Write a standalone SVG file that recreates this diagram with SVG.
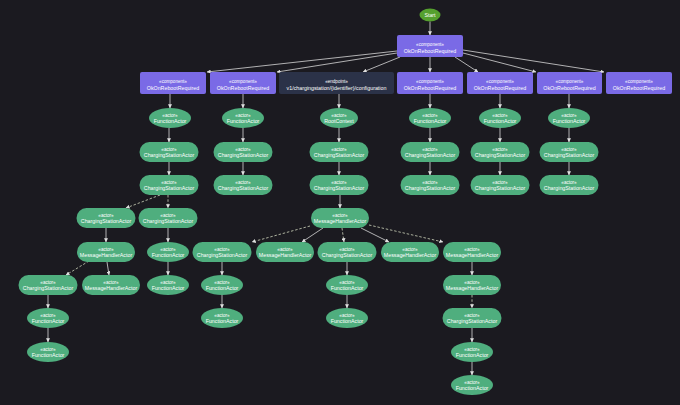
<svg xmlns="http://www.w3.org/2000/svg" width="680" height="405" viewBox="0 0 680 405">
<defs>
<marker id="ah" viewBox="0 0 6 6" refX="5.5" refY="3" markerWidth="4" markerHeight="4" orient="auto" markerUnits="userSpaceOnUse">
<path d="M0,0 L6,3 L0,6 z" fill="#e0e0e0"/>
</marker>
<style>
text{font-family:"Liberation Sans",Arial,sans-serif;fill:#ffffff;text-anchor:middle}
.st{font-size:4.6px}
.nm{font-size:5.3px}
.comp{fill:#7a6ae6}
.ep{fill:#2b3248}
.act{fill:#4fae7e}
.start{fill:#55a02e}
.e{stroke:#d8d8d8;stroke-width:0.8;fill:none;marker-end:url(#ah)}
.d{stroke:#cfd6bc;stroke-width:0.8;fill:none;stroke-dasharray:2.5,1.8;marker-end:url(#ah)}
</style>
</defs>
<rect width="680" height="405" fill="#1b1a20"/>

<g id="connectors">
<line class="e" x1="430" y1="21.5" x2="430" y2="35"/>
<line class="e" x1="397" y1="51" x2="207" y2="72"/>
<line class="e" x1="397" y1="53" x2="277" y2="72"/>
<line class="e" x1="400" y1="57" x2="363" y2="72"/>
<line class="e" x1="430" y1="57" x2="430" y2="72"/>
<line class="e" x1="455" y1="57" x2="478" y2="72"/>
<line class="e" x1="463" y1="53" x2="536" y2="72"/>
<line class="e" x1="463" y1="50" x2="604" y2="72"/>
<!-- col A -->
<line class="e" x1="170" y1="94" x2="170" y2="108"/>
<line class="e" x1="169" y1="128" x2="169" y2="142"/>
<line class="e" x1="169" y1="162" x2="169" y2="175"/>
<line class="d" x1="160" y1="195" x2="126" y2="208"/>
<line class="d" x1="168" y1="195" x2="168" y2="208"/>
<line class="e" x1="106" y1="228" x2="106" y2="242"/>
<line class="e" x1="168" y1="228" x2="168" y2="242"/>
<line class="d" x1="89" y1="261" x2="66" y2="275"/>
<line class="e" x1="107" y1="262" x2="109" y2="275"/>
<line class="e" x1="168" y1="262" x2="168" y2="275"/>
<line class="e" x1="48" y1="295" x2="48" y2="308"/>
<line class="e" x1="48" y1="328" x2="48" y2="342"/>
<!-- col B -->
<line class="e" x1="243" y1="94" x2="243" y2="108"/>
<line class="e" x1="243" y1="128" x2="243" y2="142"/>
<line class="e" x1="243" y1="162" x2="243" y2="175"/>
<!-- endpoint col -->
<line class="e" x1="339" y1="94" x2="339" y2="108"/>
<line class="e" x1="339" y1="128" x2="339" y2="142"/>
<line class="e" x1="339" y1="162" x2="339" y2="175"/>
<line class="e" x1="340" y1="195" x2="340" y2="208"/>
<line class="d" x1="310" y1="226" x2="252" y2="242"/>
<line class="e" x1="323" y1="228" x2="302" y2="242"/>
<line class="d" x1="342" y1="228" x2="344" y2="242"/>
<line class="e" x1="361" y1="228" x2="389" y2="242"/>
<line class="d" x1="369" y1="225" x2="443" y2="242"/>
<line class="e" x1="222" y1="262" x2="222" y2="275"/>
<line class="e" x1="222" y1="295" x2="222" y2="308"/>
<line class="e" x1="347" y1="262" x2="347" y2="275"/>
<line class="e" x1="347" y1="295" x2="347" y2="308"/>
<line class="e" x1="472" y1="262" x2="472" y2="275"/>
<line class="d" x1="472" y1="295" x2="472" y2="308"/>
<line class="e" x1="472" y1="328" x2="472" y2="342"/>
<line class="e" x1="472" y1="362" x2="472" y2="375"/>
<!-- right cols -->
<line class="e" x1="430" y1="94" x2="430" y2="108"/>
<line class="e" x1="430" y1="128" x2="430" y2="142"/>
<line class="e" x1="430" y1="162" x2="430" y2="175"/>
<line class="e" x1="500" y1="94" x2="500" y2="108"/>
<line class="e" x1="500" y1="128" x2="500" y2="142"/>
<line class="e" x1="500" y1="162" x2="500" y2="175"/>
<line class="e" x1="569" y1="94" x2="569" y2="108"/>
<line class="e" x1="569" y1="128" x2="569" y2="142"/>
<line class="e" x1="569" y1="162" x2="569" y2="175"/>
</g>

<g id="start"><ellipse class="start" cx="430" cy="15" rx="10.5" ry="6.5"/><text x="430" y="17" style="font-size:5.3px">Start</text></g>

<g id="root"><rect class="comp" x="397" y="35" width="66" height="22" rx="2"/><text class="st" x="430" y="45.5">«component»</text><text class="nm" x="430" y="52.5">OkOnRebootRequired</text></g>

<g id="comp1"><rect class="comp" x="140" y="72" width="66" height="22" rx="2"/><text class="st" x="173" y="83">«component»</text><text class="nm" x="173" y="90">OkOnRebootRequired</text></g>
<g id="comp2"><rect class="comp" x="210" y="72" width="66" height="22" rx="2"/><text class="st" x="243" y="83">«component»</text><text class="nm" x="243" y="90">OkOnRebootRequired</text></g>
<g id="endpoint"><rect class="ep" x="279" y="72" width="115" height="22" rx="2"/><text class="st" x="336.5" y="83">«endpoint»</text><text class="nm" x="336.5" y="90">v1/chargingstation/{identifier}/configuration</text></g>
<g id="comp3"><rect class="comp" x="397" y="72" width="66" height="22" rx="2"/><text class="st" x="430" y="83">«component»</text><text class="nm" x="430" y="90">OkOnRebootRequired</text></g>
<g id="comp4"><rect class="comp" x="467" y="72" width="66" height="22" rx="2"/><text class="st" x="500" y="83">«component»</text><text class="nm" x="500" y="90">OkOnRebootRequired</text></g>
<g id="comp5"><rect class="comp" x="537" y="72" width="65" height="22" rx="2"/><text class="st" x="569.5" y="83">«component»</text><text class="nm" x="569.5" y="90">OkOnRebootRequired</text></g>
<g id="comp6"><rect class="comp" x="606" y="72" width="66" height="22" rx="2"/><text class="st" x="639" y="83">«component»</text><text class="nm" x="639" y="90">OkOnRebootRequired</text></g>

<!-- column A -->
<g id="a1"><ellipse class="act" cx="170" cy="118" rx="21" ry="10"/><text class="st" x="170" y="116.5">«actor»</text><text class="nm" x="170" y="123">FunctionActor</text></g>
<g id="a2"><rect class="act" x="139.5" y="142" width="59" height="20" rx="10"/><text class="st" x="169" y="150.5">«actor»</text><text class="nm" x="169" y="157">ChargingStationActor</text></g>
<g id="a3"><rect class="act" x="139.5" y="175" width="59" height="20" rx="10"/><text class="st" x="169" y="183.5">«actor»</text><text class="nm" x="169" y="190">ChargingStationActor</text></g>
<g id="a4"><rect class="act" x="76.5" y="208" width="59" height="20" rx="10"/><text class="st" x="106" y="216.5">«actor»</text><text class="nm" x="106" y="223">ChargingStationActor</text></g>
<g id="a5"><rect class="act" x="138.5" y="208" width="59" height="20" rx="10"/><text class="st" x="168" y="216.5">«actor»</text><text class="nm" x="168" y="223">ChargingStationActor</text></g>
<g id="a6"><rect class="act" x="77" y="242" width="58" height="20" rx="10"/><text class="st" x="106" y="250.5">«actor»</text><text class="nm" x="106" y="257">MessageHandlerActor</text></g>
<g id="a7"><ellipse class="act" cx="168" cy="252" rx="21" ry="10"/><text class="st" x="168" y="250.5">«actor»</text><text class="nm" x="168" y="257">FunctionActor</text></g>
<g id="a8"><rect class="act" x="18.5" y="275" width="59" height="20" rx="10"/><text class="st" x="48" y="283.5">«actor»</text><text class="nm" x="48" y="290">ChargingStationActor</text></g>
<g id="a9"><rect class="act" x="82" y="275" width="58" height="20" rx="10"/><text class="st" x="111" y="283.5">«actor»</text><text class="nm" x="111" y="290">MessageHandlerActor</text></g>
<g id="a10"><ellipse class="act" cx="168" cy="285" rx="21" ry="10"/><text class="st" x="168" y="283.5">«actor»</text><text class="nm" x="168" y="290">FunctionActor</text></g>
<g id="a11"><ellipse class="act" cx="48" cy="318" rx="21" ry="10"/><text class="st" x="48" y="316.5">«actor»</text><text class="nm" x="48" y="323">FunctionActor</text></g>
<g id="a12"><ellipse class="act" cx="48" cy="352" rx="21" ry="10"/><text class="st" x="48" y="350.5">«actor»</text><text class="nm" x="48" y="357">FunctionActor</text></g>

<!-- column B -->
<g id="b1"><ellipse class="act" cx="243" cy="118" rx="21" ry="10"/><text class="st" x="243" y="116.5">«actor»</text><text class="nm" x="243" y="123">FunctionActor</text></g>
<g id="b2"><rect class="act" x="213.5" y="142" width="59" height="20" rx="10"/><text class="st" x="243" y="150.5">«actor»</text><text class="nm" x="243" y="157">ChargingStationActor</text></g>
<g id="b3"><rect class="act" x="213.5" y="175" width="59" height="20" rx="10"/><text class="st" x="243" y="183.5">«actor»</text><text class="nm" x="243" y="190">ChargingStationActor</text></g>

<!-- endpoint column -->
<g id="e1"><ellipse class="act" cx="339" cy="118" rx="19" ry="10"/><text class="st" x="339" y="116.5">«actor»</text><text class="nm" x="339" y="123">RootContext</text></g>
<g id="e2"><rect class="act" x="309.5" y="142" width="59" height="20" rx="10"/><text class="st" x="339" y="150.5">«actor»</text><text class="nm" x="339" y="157">ChargingStationActor</text></g>
<g id="e3"><rect class="act" x="309.5" y="175" width="59" height="20" rx="10"/><text class="st" x="339" y="183.5">«actor»</text><text class="nm" x="339" y="190">ChargingStationActor</text></g>
<g id="e4"><rect class="act" x="311" y="208" width="58" height="20" rx="10"/><text class="st" x="340" y="216.5">«actor»</text><text class="nm" x="340" y="223">MessageHandlerActor</text></g>
<g id="e5"><rect class="act" x="192.5" y="242" width="59" height="20" rx="10"/><text class="st" x="222" y="250.5">«actor»</text><text class="nm" x="222" y="257">ChargingStationActor</text></g>
<g id="e6"><rect class="act" x="256" y="242" width="58" height="20" rx="10"/><text class="st" x="285" y="250.5">«actor»</text><text class="nm" x="285" y="257">MessageHandlerActor</text></g>
<g id="e7"><rect class="act" x="317.5" y="242" width="59" height="20" rx="10"/><text class="st" x="347" y="250.5">«actor»</text><text class="nm" x="347" y="257">ChargingStationActor</text></g>
<g id="e8"><rect class="act" x="381" y="242" width="58" height="20" rx="10"/><text class="st" x="410" y="250.5">«actor»</text><text class="nm" x="410" y="257">MessageHandlerActor</text></g>
<g id="e9"><rect class="act" x="443" y="242" width="58" height="20" rx="10"/><text class="st" x="472" y="250.5">«actor»</text><text class="nm" x="472" y="257">MessageHandlerActor</text></g>
<g id="e10"><ellipse class="act" cx="222" cy="285" rx="21" ry="10"/><text class="st" x="222" y="283.5">«actor»</text><text class="nm" x="222" y="290">FunctionActor</text></g>
<g id="e11"><ellipse class="act" cx="222" cy="318" rx="21" ry="10"/><text class="st" x="222" y="316.5">«actor»</text><text class="nm" x="222" y="323">FunctionActor</text></g>
<g id="e12"><ellipse class="act" cx="347" cy="285" rx="21" ry="10"/><text class="st" x="347" y="283.5">«actor»</text><text class="nm" x="347" y="290">FunctionActor</text></g>
<g id="e13"><ellipse class="act" cx="347" cy="318" rx="21" ry="10"/><text class="st" x="347" y="316.5">«actor»</text><text class="nm" x="347" y="323">FunctionActor</text></g>
<g id="e14"><rect class="act" x="443" y="275" width="58" height="20" rx="10"/><text class="st" x="472" y="283.5">«actor»</text><text class="nm" x="472" y="290">MessageHandlerActor</text></g>
<g id="e15"><rect class="act" x="442.5" y="308" width="59" height="20" rx="10"/><text class="st" x="472" y="316.5">«actor»</text><text class="nm" x="472" y="323">ChargingStationActor</text></g>
<g id="e16"><ellipse class="act" cx="472" cy="352" rx="21" ry="10"/><text class="st" x="472" y="350.5">«actor»</text><text class="nm" x="472" y="357">FunctionActor</text></g>
<g id="e17"><ellipse class="act" cx="472" cy="385" rx="21" ry="10"/><text class="st" x="472" y="383.5">«actor»</text><text class="nm" x="472" y="390">FunctionActor</text></g>

<!-- right columns -->
<g id="c3a"><ellipse class="act" cx="430" cy="118" rx="21" ry="10"/><text class="st" x="430" y="116.5">«actor»</text><text class="nm" x="430" y="123">FunctionActor</text></g>
<g id="c3b"><rect class="act" x="400.5" y="142" width="59" height="20" rx="10"/><text class="st" x="430" y="150.5">«actor»</text><text class="nm" x="430" y="157">ChargingStationActor</text></g>
<g id="c3c"><rect class="act" x="400.5" y="175" width="59" height="20" rx="10"/><text class="st" x="430" y="183.5">«actor»</text><text class="nm" x="430" y="190">ChargingStationActor</text></g>
<g id="c4a"><ellipse class="act" cx="500" cy="118" rx="21" ry="10"/><text class="st" x="500" y="116.5">«actor»</text><text class="nm" x="500" y="123">FunctionActor</text></g>
<g id="c4b"><rect class="act" x="470.5" y="142" width="59" height="20" rx="10"/><text class="st" x="500" y="150.5">«actor»</text><text class="nm" x="500" y="157">ChargingStationActor</text></g>
<g id="c4c"><rect class="act" x="470.5" y="175" width="59" height="20" rx="10"/><text class="st" x="500" y="183.5">«actor»</text><text class="nm" x="500" y="190">ChargingStationActor</text></g>
<g id="c5a"><ellipse class="act" cx="569" cy="118" rx="21" ry="10"/><text class="st" x="569" y="116.5">«actor»</text><text class="nm" x="569" y="123">FunctionActor</text></g>
<g id="c5b"><rect class="act" x="539.5" y="142" width="59" height="20" rx="10"/><text class="st" x="569" y="150.5">«actor»</text><text class="nm" x="569" y="157">ChargingStationActor</text></g>
<g id="c5c"><rect class="act" x="539.5" y="175" width="59" height="20" rx="10"/><text class="st" x="569" y="183.5">«actor»</text><text class="nm" x="569" y="190">ChargingStationActor</text></g>
</svg>
